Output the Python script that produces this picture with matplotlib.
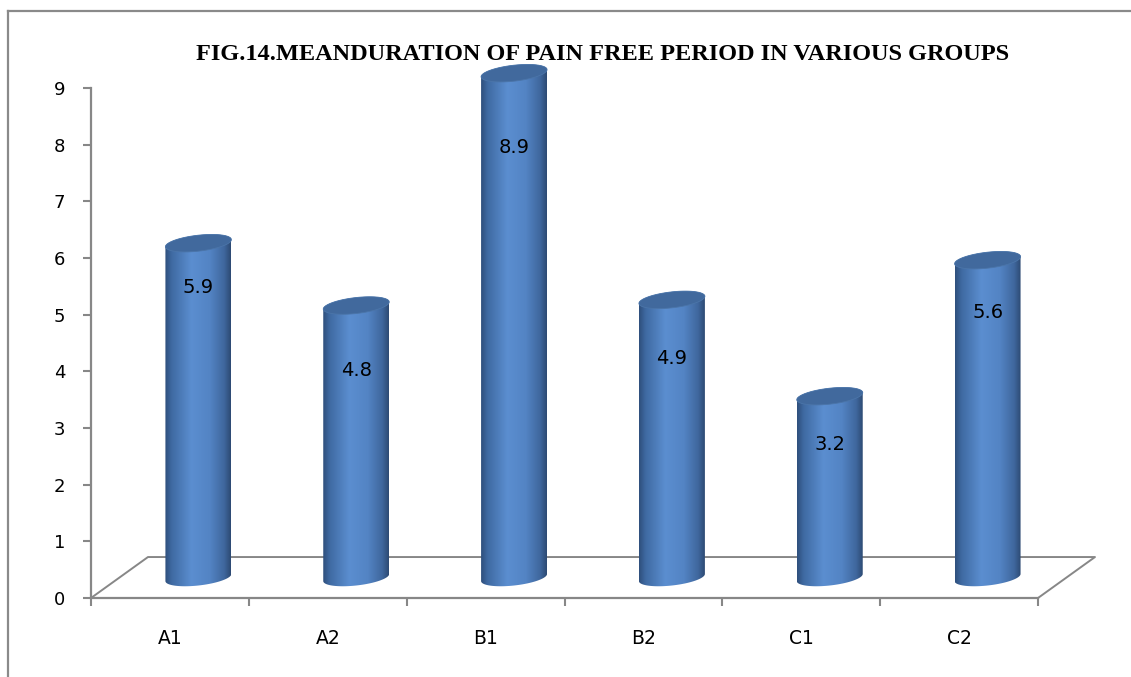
import numpy as np
import matplotlib.pyplot as plt
from matplotlib.patches import Polygon
from matplotlib.lines import Line2D
from matplotlib.colors import LinearSegmentedColormap

groups = ['A1', 'A2', 'B1', 'B2', 'C1', 'C2']
pain_free = [5.9, 4.8, 8.9, 4.9, 3.2, 5.6]
# how far below the cylinder top each value label sits (value units)
label_drop = [0.78, 1.15, 1.31, 1.04, 0.86, 0.92]

title = 'FIG.14.MEANDURATION OF PAIN FREE PERIOD IN VARIOUS GROUPS'

GRAY = '#878787'
DX, DY = 0.361, 0.723      # depth offset of the floor
RX, RY = 0.209, 0.141      # cylinder radius / ellipse half-height
SHEAR = 0.30               # tilt of the ellipses

body_cmap = LinearSegmentedColormap.from_list('cyl', [
    (0.00, '#2e4f7c'), (0.10, '#3f6aa2'), (0.40, '#5b8ed0'),
    (0.68, '#5384c4'), (0.90, '#3f679d'), (1.00, '#2d4a73')])

fig = plt.figure(figsize=(11.31, 6.77), dpi=100)
ax = fig.add_axes([91 / 1131, 79 / 677, 947 / 1131, 510 / 677])
ax.set_autoscale_on(False)
ax.set_xlim(0, 6)
ax.set_ylim(0, 9)

for side in ['top', 'right']:
    ax.spines[side].set_visible(False)
for side in ['left', 'bottom']:
    ax.spines[side].set_color(GRAY)
    ax.spines[side].set_linewidth(1.6)

ax.set_yticks(range(10))
ax.tick_params(axis='y', direction='out', length=5.5, width=1.5, color=GRAY,
               labelsize=13, pad=13)
ax.set_xticks(range(7))
ax.set_xticks(np.arange(6) + 0.5, minor=True)
ax.set_xticklabels([])
ax.set_xticklabels(groups, minor=True)
ax.tick_params(axis='x', which='major', direction='out', length=6, width=1.5, color=GRAY)
ax.tick_params(axis='x', which='minor', length=0, labelsize=13.5, pad=22)

# floor of the 3d box
ax.plot([0, DX, 6 + DX, 6], [0, DY, DY, 0], color=GRAY, lw=1.4,
        clip_on=False, zorder=1)

t_bot = np.linspace(np.pi, 2 * np.pi, 60)
t_top = np.linspace(0, np.pi, 60)
t_all = np.linspace(0, 2 * np.pi, 120)

for i, (name, val) in enumerate(zip(groups, pain_free)):
    cx = i + 0.5 + DX / 2
    y0 = DY / 2
    y1 = val + DY / 2

    def ell(t, cy):
        x = cx + RX * np.cos(t)
        return np.column_stack([x, cy + RY * np.sin(t) + SHEAR * (x - cx)])

    outline = np.vstack([ell(t_bot, y0), ell(t_top, y1)])
    body = Polygon(outline, closed=True, facecolor='none', edgecolor='none',
                   clip_on=False)
    ax.add_patch(body)
    grad = ax.imshow(np.linspace(0, 1, 256)[None, :], cmap=body_cmap,
                     extent=[cx - RX, cx + RX, y0 - 0.4, y1 + 0.4],
                     aspect='auto', origin='lower', zorder=2,
                     interpolation='bilinear')
    grad.set_clip_box(fig.bbox)
    grad.set_clip_path(body)

    top = Polygon(ell(t_all, y1), closed=True, facecolor='#41699d',
                  edgecolor='#4b75a9', lw=0.6, zorder=3, clip_on=False)
    ax.add_patch(top)

    ax.text(cx, y1 - label_drop[i], f'{val}', ha='center', va='center',
            fontsize=14, color='black', zorder=4)

ax.set_xlim(0, 6)
ax.set_ylim(0, 9)

fig.text(603 / 1131, 1 - 55 / 677, title, ha='center', va='center',
         family='Liberation Serif', fontweight='bold', fontsize=17.5)

# outer frame of the chart area
fig.add_artist(Line2D([8 / 1131, 8 / 1131], [0, 1 - 11 / 677],
                      transform=fig.transFigure, color='#8a8a8a', lw=1.6))
fig.add_artist(Line2D([8 / 1131, 1], [1 - 11 / 677, 1 - 11 / 677],
                      transform=fig.transFigure, color='#8a8a8a', lw=1.6))

fig.savefig('out.png', dpi=100)
